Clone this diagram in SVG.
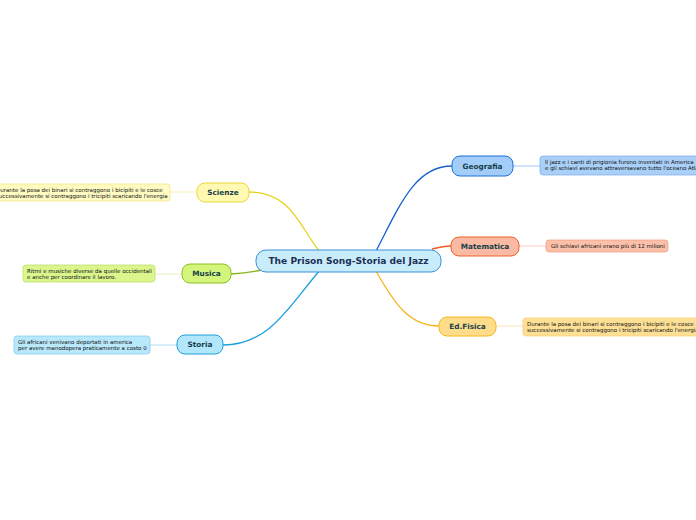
<svg xmlns="http://www.w3.org/2000/svg" width="696" height="520" viewBox="0 0 696 520">
<style>
text{font-family:"DejaVu Sans","Verdana",sans-serif}
.n{font-size:7.3px;font-weight:bold;fill:#17404a;text-anchor:middle}
.c{font-size:9.1px;font-weight:bold;fill:#1b2f55;text-anchor:middle}
.l{font-size:5.5px;fill:#111}
.cn{fill:none;stroke-width:1.3}
.lc{fill:none;stroke-width:0.8}
</style>
<rect width="696" height="520" fill="#ffffff"/>
<g id="connectors">
<path class="cn" stroke="#e6d21e" d="M249,192 C292,192 300,228 320,252"/>
<path class="cn" stroke="#86b51c" d="M231,274 C245,273 252,272 262,270"/>
<path class="cn" stroke="#1aa0dc" d="M223,345 C270,345 290,305 320,270"/>
<path class="cn" stroke="#1560cf" d="M376,251 C400,205 415,166 452,166"/>
<path class="cn" stroke="#f05a25" d="M432,249 C440,247 445,246 451,246"/>
<path class="cn" stroke="#f7b51c" d="M376,271 C395,305 410,326 439,326"/>
<path class="lc" stroke="#f6ee9c" d="M170,192 L197,192"/>
<path class="lc" stroke="#d6ecb0" d="M155,274 L182,274"/>
<path class="lc" stroke="#9ed8f2" d="M150,345 L177,345"/>
<path class="lc" stroke="#8ab8f0" d="M513,166 L540,166"/>
<path class="lc" stroke="#f8c0b0" d="M519,246 L546,246"/>
<path class="lc" stroke="#fbe0a8" d="M496,326 L523,326"/>
</g>
<g id="central">
<rect x="256" y="250" width="185" height="22" rx="10" fill="#c9ecfb" stroke="#3a90d8" stroke-width="1"/>
<text class="c" x="348.5" y="264.2">The Prison Song-Storia del Jazz</text>
</g>
<g id="scienze">
<rect x="197" y="183" width="52" height="19" rx="8" fill="#fff9b2" stroke="#ead832" stroke-width="1"/>
<text class="n" x="223" y="195">Scienze</text>
</g>
<g id="scienze-leaf">
<rect x="-10" y="184" width="180" height="17" rx="3" fill="#fffbc2" stroke="#efe57a" stroke-width="0.7"/>
<text class="l" x="-4" y="191.5">Durante la posa dei binari si contraggono i bicipiti e le cosce</text>
<text class="l" x="-4" y="197.7">successivamente si contraggono i tricipiti scaricando l'energia</text>
</g>
<g id="musica">
<rect x="182" y="264" width="49" height="19" rx="8" fill="#d4f57c" stroke="#8cc020" stroke-width="1"/>
<text class="n" x="206.5" y="276">Musica</text>
</g>
<g id="musica-leaf">
<rect x="23" y="265" width="132" height="17" rx="3" fill="#dcf68e" stroke="#b6dc60" stroke-width="0.7"/>
<text class="l" x="27" y="272.5">Ritmi e musiche diverse da quelle occidentali</text>
<text class="l" x="27" y="278.7">e anche per coordinare il lavoro.</text>
</g>
<g id="storia">
<rect x="177" y="335" width="46" height="19" rx="8" fill="#b2e6fa" stroke="#1ea0dc" stroke-width="1"/>
<text class="n" x="200" y="347">Storia</text>
</g>
<g id="storia-leaf">
<rect x="14" y="336" width="136" height="18" rx="3" fill="#b8e8fa" stroke="#7ccaee" stroke-width="0.7"/>
<text class="l" x="18" y="343.5">Gli africani venivano deportati in america</text>
<text class="l" x="18" y="349.7">per avere manodopera praticamente a costo 0</text>
</g>
<g id="geografia">
<rect x="452" y="156" width="61" height="20" rx="8" fill="#a2cdf8" stroke="#1e6fd8" stroke-width="1"/>
<text class="n" x="482.5" y="168.5">Geografia</text>
</g>
<g id="geografia-leaf">
<rect x="540" y="156" width="170" height="19" rx="3" fill="#aad0f8" stroke="#78aaee" stroke-width="0.7"/>
<text class="l" x="545" y="164">Il jazz e i canti di prigionia furono inventati in America</text>
<text class="l" x="545" y="170.2">e gli schiavi avevano attraversavano tutto l'oceano Atlantico</text>
</g>
<g id="matematica">
<rect x="451" y="237" width="68" height="19" rx="8" fill="#f9b9a2" stroke="#f0602a" stroke-width="1"/>
<text class="n" x="485" y="249">Matematica</text>
</g>
<g id="matematica-leaf">
<rect x="546" y="240" width="122" height="12" rx="3" fill="#fac0aa" stroke="#f29a7c" stroke-width="0.7"/>
<text class="l" x="551" y="248">Gli schiavi africani erano più di 12 milioni</text>
</g>
<g id="edfisica">
<rect x="439" y="317" width="57" height="19" rx="8" fill="#fddc8a" stroke="#f7b820" stroke-width="1"/>
<text class="n" x="467.5" y="329">Ed.Fisica</text>
</g>
<g id="edfisica-leaf">
<rect x="523" y="318" width="185" height="18" rx="3" fill="#fde096" stroke="#f6cc6a" stroke-width="0.7"/>
<text class="l" x="527" y="325.5">Durante la posa dei binari si contraggono i bicipiti e le cosce</text>
<text class="l" x="527" y="331.7">successivamente si contraggono i tricipiti scaricando l'energia</text>
</g>
</svg>
